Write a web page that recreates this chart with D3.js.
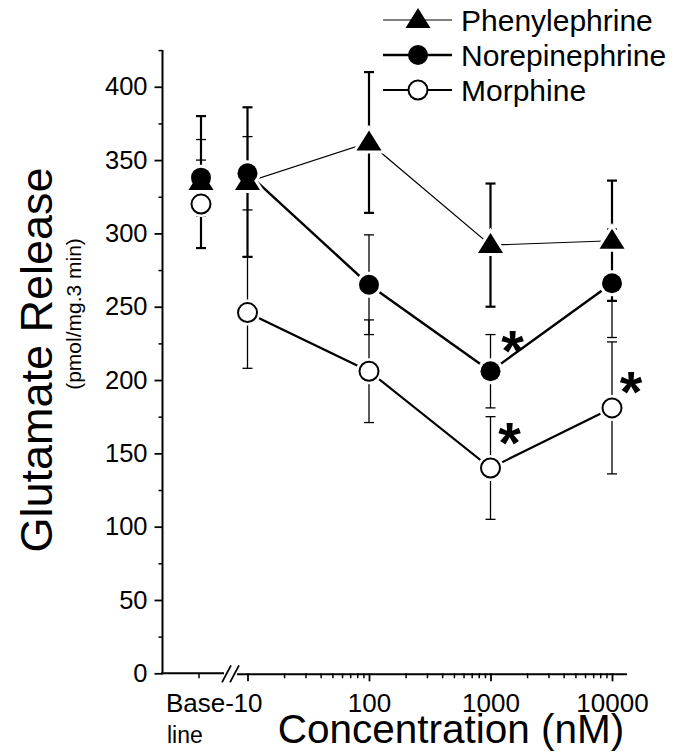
<!DOCTYPE html>
<html><head><meta charset="utf-8">
<script src="https://cdn.jsdelivr.net/npm/d3@7"></script>
<style>body{margin:0;background:#fff}svg{display:block;font-family:"Liberation Sans",Arial,Helvetica,sans-serif}</style>
</head><body>
<svg id="c" width="681" height="753"></svg>
<script>
// ---- data ----
const concentrations = ["Baseline", 10, 100, 1000, 10000];
const phenylephrine = [335, 335, 362, 292, 295];
const phenylephrineErr = [45, 51, 48, 42, 41];
const norepinephrine = [338, 341, 265, 206, 266];
const norepinephrineErr = [26, 25, 34, 25, 37];
const morphine = [320, 246, 206, 140, 181];
const morphineErr = [30, 38, 35, 35, 45];
const yTicks = [0, 50, 100, 150, 200, 250, 300, 350, 400];
const yMinorTicks = [25, 75, 125, 175, 225, 275, 325, 375, 425];
const xTicks = [10, 100, 1000, 10000];
const xTickLabels = ["10", "100", "1000", "10000"];
const significant = [["norepinephrine", 1000], ["morphine", 1000], ["morphine", 10000]];

const svg = d3.select("#c");
const y = d3.scaleLinear().domain([0, 425]).range([673.3, 50.1]);
const x = d3.scaleLog().domain([10, 10000]).range([247.5, 612]);
const baseX = 201;
const xp = c => c === "Baseline" ? baseX : x(c);
const FONT = "Liberation Sans, Arial, sans-serif";

// y axis
const yAxis = d3.axisLeft(y).tickValues(yTicks).tickSize(8).tickPadding(7).tickFormat(d3.format("d"));
const gy = svg.append("g").attr("transform", "translate(162.5,0)").call(yAxis);
gy.select(".domain").remove();
gy.selectAll("line").attr("stroke", "#000").attr("stroke-width", 1.8);
gy.selectAll("text").attr("font-size", 25.5).attr("fill", "#000").attr("font-family", FONT);
const gym = svg.append("g").attr("transform", "translate(162.5,0)").call(d3.axisLeft(y).tickValues(yMinorTicks).tickSize(4).tickFormat(""));
gym.select(".domain").remove();
gym.selectAll("line").attr("stroke", "#000").attr("stroke-width", 1.5);
svg.append("line").attr("x1", 162.5).attr("x2", 162.5).attr("y1", y(425)).attr("y2", y(0) + 1)
  .attr("stroke", "#000").attr("stroke-width", 2);

// x axis
const x0 = y(0);
const minorX = [];
[10, 100, 1000].forEach(d => { for (let k = 2; k <= 9; k++) minorX.push(d * k); });
const gx = svg.append("g").attr("transform", `translate(0,${x0})`)
  .call(d3.axisBottom(x).tickValues(xTicks).tickSize(8).tickPadding(12).tickFormat((d, i) => xTickLabels[i]));
gx.select(".domain").remove();
gx.selectAll("line").attr("stroke", "#000").attr("stroke-width", 1.8);
gx.selectAll("text").attr("font-size", 26).attr("fill", "#000").attr("font-family", FONT);
const gxm = svg.append("g").attr("transform", `translate(0,${x0})`)
  .call(d3.axisBottom(x).tickValues(minorX).tickSize(5).tickFormat(""));
gxm.select(".domain").remove();
gxm.selectAll("line").attr("stroke", "#000").attr("stroke-width", 1.5);
// baseline tick
svg.append("line").attr("x1", baseX - 2).attr("x2", baseX - 2).attr("y1", x0).attr("y2", x0 + 5).attr("stroke", "#000").attr("stroke-width", 1.5);
// axis line with break
svg.append("line").attr("x1", 161).attr("x2", 224).attr("y1", x0).attr("y2", x0).attr("stroke", "#000").attr("stroke-width", 2);
svg.append("line").attr("x1", 237).attr("x2", 627).attr("y1", x0 + 1).attr("y2", x0 + 1).attr("stroke", "#000").attr("stroke-width", 2);
[[222, 231], [230, 239]].forEach(([a, b]) => {
  svg.append("line").attr("x1", a).attr("y1", x0 + 9).attr("x2", b).attr("y2", x0 - 8).attr("stroke", "#000").attr("stroke-width", 1.8);
});

// x labels
svg.append("text").attr("x", 166).attr("y", 712).attr("font-size", 26).text("Base-");
svg.append("text").attr("x", 167).attr("y", 743).attr("font-size", 23).text("line");
svg.append("text").attr("x", 451).attr("y", 743).attr("text-anchor", "middle").attr("font-size", 40.5).text("Concentration (nM)");
// y labels
svg.append("text").attr("transform", "translate(52,360) rotate(-90)").attr("text-anchor", "middle").attr("font-size", 45).text("Glutamate Release");
svg.append("text").attr("transform", "translate(81,314) rotate(-90)").attr("text-anchor", "middle").attr("font-size", 21).text("(pmol/mg.3 min)");

// series
const series = [
  { name: "Phenylephrine", key: "phenylephrine", vals: phenylephrine, err: phenylephrineErr, marker: "tri", lw: 1.2, ew: 2.2 },
  { name: "Norepinephrine", key: "norepinephrine", vals: norepinephrine, err: norepinephrineErr, marker: "fill", lw: 2.4, ew: 1.3 },
  { name: "Morphine", key: "morphine", vals: morphine, err: morphineErr, marker: "open", lw: 2.2, ew: 1.3 }
];
const tri = "M0,-12L12.5,8L-12.5,8Z";
const line = d3.line().x(d => xp(d.c)).y(d => y(d.v));

const gLines = svg.append("g"), gErr = svg.append("g"), gHalo = svg.append("g"), gMark = svg.append("g");
function drawMarker(g, type, cx, cy, halo) {
  if (type === "tri") {
    g.append("path").attr("d", tri).attr("transform", `translate(${cx},${cy})`)
      .attr("fill", halo ? "#fff" : "#000").attr("stroke", halo ? "#fff" : "none").attr("stroke-width", halo ? 6 : 0);
  } else {
    g.append("circle").attr("cx", cx).attr("cy", cy).attr("r", halo ? 13 : (type === "open" ? 9.5 : 10))
      .attr("fill", type === "open" || halo ? "#fff" : "#000")
      .attr("stroke", halo ? "none" : "#000").attr("stroke-width", type === "open" ? 2 : 0);
  }
}
series.forEach(s => {
  const pts = concentrations.map((c, i) => ({ c, v: s.vals[i], e: s.err[i] }));
  gLines.append("path").datum(pts.slice(1)).attr("d", line).attr("fill", "none").attr("stroke", "#000").attr("stroke-width", s.lw);
  pts.forEach(p => {
    const cx = xp(p.c);
    gErr.append("line").attr("x1", cx).attr("x2", cx).attr("y1", y(p.v - p.e)).attr("y2", y(p.v + p.e)).attr("stroke", "#000").attr("stroke-width", s.ew);
    [p.v - p.e, p.v + p.e].forEach(v => gErr.append("line").attr("x1", cx - 5).attr("x2", cx + 5).attr("y1", y(v)).attr("y2", y(v)).attr("stroke", "#000").attr("stroke-width", s.ew));
    drawMarker(gHalo, s.marker, cx, y(p.v), true);
    drawMarker(gMark, s.marker, cx, y(p.v), false);
  });
});

// significance stars
const starOffset = { "norepinephrine,1000": [22, -32], "morphine,1000": [19, -37], "morphine,10000": [19, -28] };
const starSize = 58;
significant.forEach(([k, c]) => {
  const s = series.find(d => d.key === k);
  const v = s.vals[concentrations.indexOf(c)];
  const o = starOffset[k + "," + c];
  svg.append("text").attr("x", xp(c) + o[0]).attr("y", y(v) + o[1] + starSize * 0.55).attr("text-anchor", "middle")
    .attr("font-size", starSize).attr("font-weight", "bold").text("*");
});

// legend
const lg = svg.append("g");
series.forEach((s, i) => {
  const ly = 20 + i * 35;
  lg.append("line").attr("x1", 383).attr("x2", 452).attr("y1", ly).attr("y2", ly).attr("stroke", "#000").attr("stroke-width", s.lw);
  drawMarker(lg, s.marker, 418, ly, false);
  lg.append("text").attr("x", 461).attr("y", ly + 10.5).attr("font-size", 30).text(s.name);
});
</script>
</body></html>
